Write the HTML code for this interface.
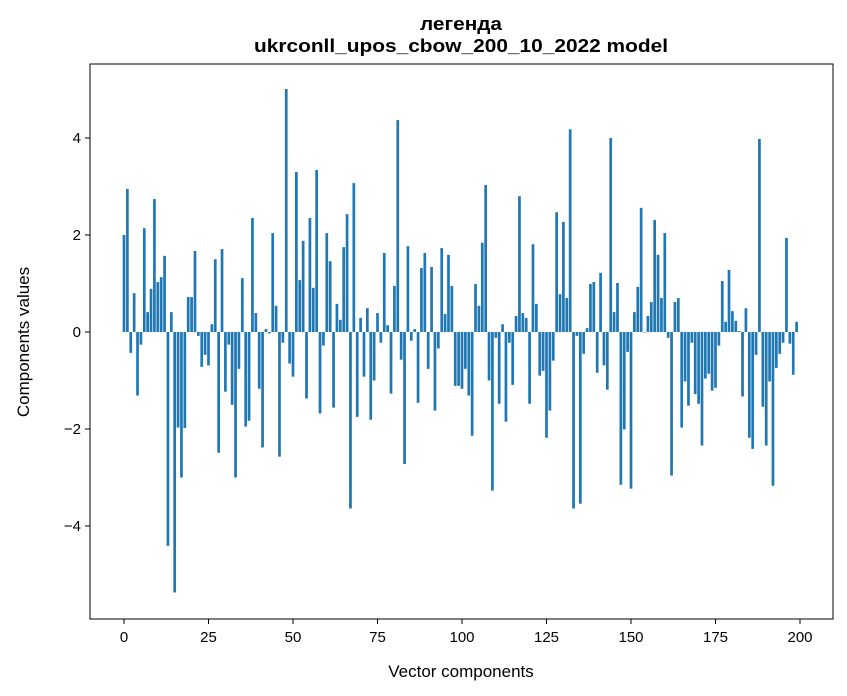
<!DOCTYPE html>
<html><head><meta charset="utf-8"><style>
html,body{margin:0;padding:0;background:#fff;}
svg{display:block;font-family:"Liberation Sans","DejaVu Sans",sans-serif;}
</style></head><body>
<svg id="chart" width="847" height="696" viewBox="0 0 847 696" xmlns="http://www.w3.org/2000/svg">
<rect width="847" height="696" fill="#fff"/>
<text x="461" y="30" text-anchor="middle" font-size="18" font-weight="bold" textLength="82" lengthAdjust="spacingAndGlyphs">легенда</text>
<text x="461" y="52" text-anchor="middle" font-size="18" font-weight="bold" textLength="414" lengthAdjust="spacingAndGlyphs">ukrconll_upos_cbow_200_10_2022 model</text>
<g id="bars"></g>
<g id="xticks"></g>
<g id="yticks"></g>
<rect x="90" y="64" width="743" height="555" fill="none" stroke="#000" stroke-width="1"/>
<text x="461" y="677" text-anchor="middle" font-size="17">Vector components</text>
<text transform="translate(29,342) rotate(-90)" text-anchor="middle" font-size="17">Components values</text>
</svg>
<script>
const values = [2.0,2.95,-0.43,0.80,-1.31,-0.26,2.14,0.41,0.89,2.74,1.03,1.13,1.57,-4.41,0.41,-5.37,-1.97,-3.0,-1.98,0.72,
0.72,1.67,-0.08,-0.72,-0.47,-0.69,0.16,1.5,-2.49,1.71,-1.23,-0.26,-1.5,-3.0,-0.76,1.11,-1.95,-1.83,2.35,0.39,
-1.17,-2.38,0.06,-0.03,2.04,0.54,-2.57,-0.22,5.01,-0.65,-0.92,3.30,1.07,1.88,-1.37,2.35,0.91,3.34,-1.68,-0.28,
2.04,1.46,-1.56,0.58,0.25,1.75,2.43,-3.64,3.07,-1.75,0.29,-0.92,0.49,-1.81,-1.0,0.39,-0.22,1.63,0.14,-1.27,
0.95,4.37,-0.57,-2.72,1.77,-0.18,0.06,-1.46,1.32,1.63,-0.76,1.34,-1.62,-0.34,1.73,0.37,1.59,0.95,-1.11,-1.11,
-1.17,-0.76,-1.31,-2.14,0.99,0.54,1.84,3.03,-1.0,-3.27,-0.12,-1.48,0.16,-1.85,-0.22,-1.09,0.33,2.80,0.39,0.29,
-1.48,1.81,0.58,-0.90,-0.80,-2.18,-1.62,-0.59,2.47,0.78,2.27,0.70,4.18,-3.64,-0.08,-3.54,-0.45,0.08,0.99,1.03,
-0.84,1.22,-0.69,-1.19,4.0,0.41,1.01,-3.15,-2.01,-0.41,-3.23,0.41,0.93,2.56,-0.01,0.33,0.62,2.31,1.59,0.70,
2.04,-0.12,-2.96,0.62,0.70,-1.97,-1.02,-1.52,-0.22,-1.28,-1.48,-2.34,-0.96,-0.86,-1.21,-1.15,-0.28,1.05,0.21,1.28,
0.43,0.23,0.02,-1.33,0.49,-2.18,-2.41,-0.47,3.98,-1.54,-2.34,-1.02,-3.17,-0.74,-0.45,-0.22,1.94,-0.24,-0.88,0.21];
const xTickValues = [0,25,50,75,100,125,150,175,200];
const yTickValues = [-4,-2,0,2,4];
const yTickLabels = ["\u22124","\u22122","0","2","4"];

const NS = "http://www.w3.org/2000/svg";
function xScale(v){ return 124 + 3.38 * v; }
function yScale(v){ return 332 - 48.5 * v; }
const barsG = document.getElementById('bars');
values.forEach(function(v, i){
  const r = document.createElementNS(NS, 'rect');
  const w = 3.38 * 0.8;
  r.setAttribute('x', xScale(i) - w/2);
  r.setAttribute('width', w);
  r.setAttribute('y', Math.min(yScale(v), yScale(0)));
  r.setAttribute('height', Math.abs(yScale(v) - yScale(0)));
  r.setAttribute('fill', '#1f77b4');
  
  
  barsG.appendChild(r);
});
const xg = document.getElementById('xticks');
xTickValues.forEach(function(t){
  const x = xScale(t);
  const l = document.createElementNS(NS, 'line');
  l.setAttribute('x1', x); l.setAttribute('x2', x);
  l.setAttribute('y1', 619); l.setAttribute('y2', 624);
  l.setAttribute('stroke', '#000');
  
  
  xg.appendChild(l);
  const tx = document.createElementNS(NS, 'text');
  tx.setAttribute('x', x); tx.setAttribute('y', 642);
  tx.setAttribute('text-anchor', 'middle');
  tx.setAttribute('font-size', '15');
  tx.textContent = String(t);
  
  
  xg.appendChild(tx);
});
const yg = document.getElementById('yticks');
yTickValues.forEach(function(t, i){
  const y = yScale(t);
  const l = document.createElementNS(NS, 'line');
  l.setAttribute('x1', 85); l.setAttribute('x2', 90);
  l.setAttribute('y1', y); l.setAttribute('y2', y);
  l.setAttribute('stroke', '#000');
  
  
  yg.appendChild(l);
  const tx = document.createElementNS(NS, 'text');
  tx.setAttribute('x', 81); tx.setAttribute('y', y + 5);
  tx.setAttribute('text-anchor', 'end');
  tx.setAttribute('font-size', '15');
  tx.textContent = yTickLabels[i];
  
  
  yg.appendChild(tx);
});
</script>
</body></html>
